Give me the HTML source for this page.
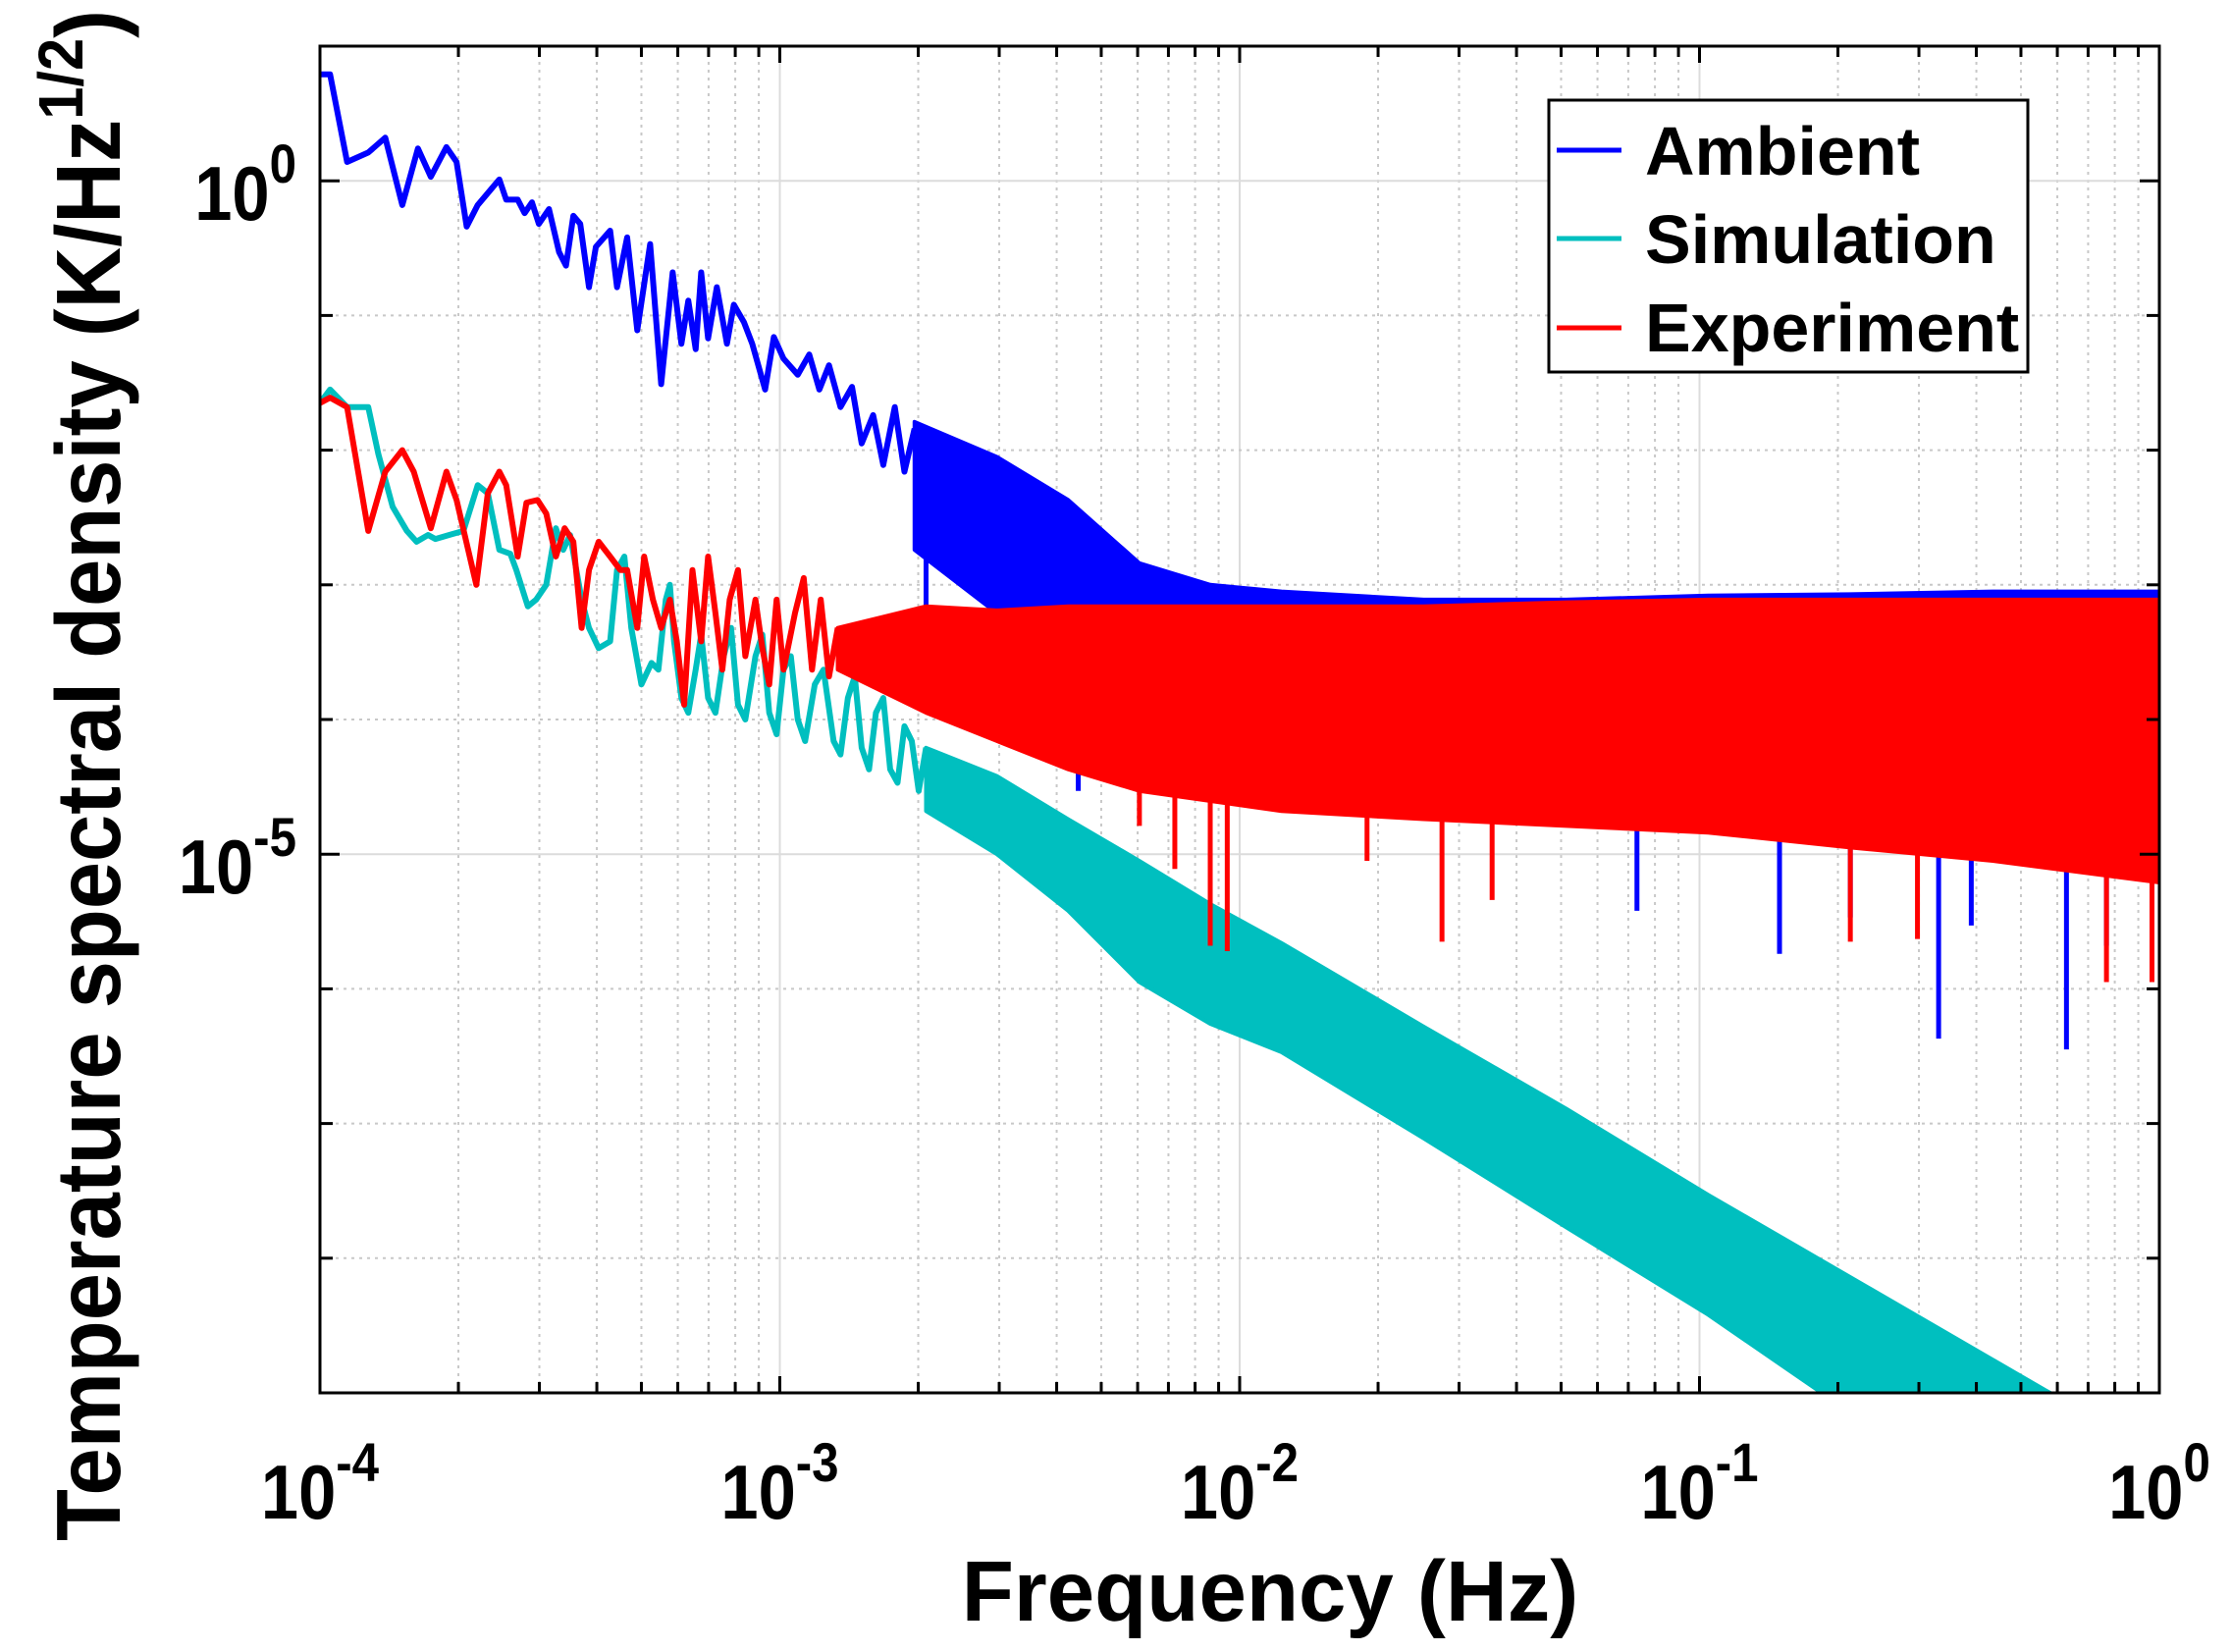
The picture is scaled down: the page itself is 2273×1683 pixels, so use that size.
<!DOCTYPE html>
<html><head><meta charset="utf-8"><style>
html,body{margin:0;padding:0;background:#fff}
svg{display:block}
text{font-family:"Liberation Sans",Arial,sans-serif;font-weight:bold;fill:#000}
</style></head><body>
<svg id="chart" width="2273" height="1683" viewBox="0 0 2273 1683" xmlns="http://www.w3.org/2000/svg">
<g id="grid"></g>
<defs><clipPath id="plotclip"><rect x="326" y="47" width="1874" height="1372"/></clipPath></defs>
<g id="series" clip-path="url(#plotclip)"></g>
<rect x="326" y="47" width="1874" height="1372" fill="none" stroke="#000" stroke-width="3"/>
<g id="ticks"></g>
<g id="labels"></g>
<text x="1294" y="1651" font-size="87" text-anchor="middle">Frequency (Hz)</text>
<text transform="translate(122,790) rotate(-90)" font-size="93" text-anchor="middle" textLength="1560" lengthAdjust="spacingAndGlyphs">Temperature spectral density (K/Hz<tspan font-size="64" dy="-38">1/2</tspan><tspan dy="38">)</tspan></text>
<g>
<rect x="1587" y="102" width="488" height="277" fill="#fff" stroke="#000" stroke-width="3" transform="translate(-9,0)"/>
<g transform="translate(-9,0)">
<g><line x1="1595" y1="153" x2="1661" y2="153" stroke="#0000ff" stroke-width="5"/><text x="1685" y="178" font-size="70">Ambient</text></g>
<g><line x1="1595" y1="243" x2="1661" y2="243" stroke="#00bfbf" stroke-width="5"/><text x="1685" y="268" font-size="70">Simulation</text></g>
<g><line x1="1595" y1="334" x2="1661" y2="334" stroke="#ff0000" stroke-width="5"/><text x="1685" y="358" font-size="70">Experiment</text></g>
</g>
</g>
</svg>
<script>
// Data in log10 units: log10(frequency Hz), log10(PSD K/Hz^1/2)
const xDecades = [-4,-3,-2,-1,0];
const yDecades = [1,0,-1,-2,-3,-4,-5,-6,-7,-8,-9];
const yLabelDecades = [0,-5];

const ambientLineF = [-4.000,-3.978,-3.941,-3.895,-3.858,-3.821,-3.787,-3.759,-3.725,-3.703,-3.681,-3.657,-3.610,-3.595,-3.570,-3.555,-3.539,-3.524,-3.502,-3.480,-3.465,-3.449,-3.434,-3.415,-3.400,-3.369,-3.354,-3.332,-3.310,-3.282,-3.258,-3.233,-3.214,-3.199,-3.183,-3.171,-3.156,-3.137,-3.115,-3.100,-3.078,-3.060,-3.032,-3.013,-2.992,-2.961,-2.936,-2.914,-2.893,-2.868,-2.843,-2.822,-2.797,-2.775,-2.750,-2.729,-2.707];
const ambientLineV = [0.79,0.79,0.14,0.21,0.32,-0.18,0.24,0.03,0.25,0.14,-0.34,-0.18,0.01,-0.14,-0.14,-0.24,-0.16,-0.32,-0.21,-0.53,-0.63,-0.26,-0.32,-0.79,-0.49,-0.37,-0.79,-0.42,-1.11,-0.47,-1.51,-0.68,-1.21,-0.89,-1.25,-0.68,-1.17,-0.79,-1.21,-0.92,-1.05,-1.21,-1.55,-1.16,-1.32,-1.44,-1.29,-1.55,-1.37,-1.68,-1.53,-1.95,-1.74,-2.11,-1.68,-2.16,-1.84];
const ambientBandF = [-2.707,-2.528,-2.373,-2.218,-2.064,-1.909,-1.600,-1.290,-0.981,-0.672,-0.362,0];
const ambientBandHi = [-1.79,-2.05,-2.37,-2.84,-3.00,-3.05,-3.11,-3.11,-3.08,-3.07,-3.05,-3.05];
const ambientBandLo = [-2.74,-3.21,-3.74,-4.16,-4.37,-4.58,-4.68,-4.74,-4.79,-4.84,-4.89,-4.89];
const ambientSpikeF = [-2.682,-2.351,-1.136,-0.826,-0.672,-0.480,-0.409,-0.202,-0.115];
const ambientSpikeV = [-3.63,-4.53,-5.42,-5.74,-5.47,-6.37,-5.53,-6.45,-5.68];

const simLineF = [-4.000,-3.978,-3.941,-3.895,-3.873,-3.842,-3.811,-3.790,-3.765,-3.749,-3.719,-3.688,-3.657,-3.635,-3.610,-3.586,-3.573,-3.548,-3.530,-3.508,-3.487,-3.471,-3.456,-3.431,-3.415,-3.394,-3.369,-3.354,-3.338,-3.323,-3.301,-3.279,-3.264,-3.248,-3.239,-3.230,-3.214,-3.199,-3.183,-3.171,-3.156,-3.140,-3.122,-3.106,-3.091,-3.075,-3.053,-3.038,-3.023,-3.007,-2.992,-2.976,-2.961,-2.945,-2.924,-2.905,-2.883,-2.868,-2.852,-2.837,-2.822,-2.806,-2.791,-2.775,-2.760,-2.744,-2.729,-2.713,-2.698,-2.682];
const simLineV = [-1.65,-1.55,-1.68,-1.68,-2.03,-2.42,-2.60,-2.68,-2.63,-2.66,-2.63,-2.60,-2.26,-2.32,-2.74,-2.77,-2.89,-3.16,-3.11,-3.00,-2.58,-2.74,-2.63,-3.11,-3.32,-3.47,-3.42,-2.89,-2.79,-3.32,-3.74,-3.58,-3.63,-3.11,-3.00,-3.42,-3.84,-3.95,-3.63,-3.37,-3.84,-3.95,-3.53,-3.32,-3.89,-4.00,-3.53,-3.37,-3.95,-4.11,-3.63,-3.53,-4.00,-4.16,-3.74,-3.63,-4.16,-4.26,-3.84,-3.68,-4.21,-4.37,-3.95,-3.84,-4.37,-4.47,-4.05,-4.16,-4.53,-4.21];
const simBandF = [-2.682,-2.528,-2.373,-2.218,-2.064,-1.909,-1.600,-1.290,-0.981,-0.743,-0.248,0];
const simBandHi = [-4.21,-4.42,-4.74,-5.05,-5.37,-5.66,-6.28,-6.89,-7.53,-8.00,-8.98,-9.45];
const simBandLo = [-4.68,-5.00,-5.42,-5.95,-6.26,-6.47,-7.11,-7.77,-8.42,-8.98,-10.02,-10.5];

const expLineF = [-4.000,-3.978,-3.941,-3.895,-3.858,-3.821,-3.796,-3.759,-3.725,-3.703,-3.660,-3.635,-3.610,-3.595,-3.570,-3.551,-3.527,-3.508,-3.487,-3.468,-3.449,-3.431,-3.415,-3.394,-3.369,-3.347,-3.332,-3.310,-3.295,-3.276,-3.258,-3.239,-3.224,-3.208,-3.190,-3.171,-3.156,-3.140,-3.125,-3.109,-3.091,-3.075,-3.053,-3.038,-3.023,-3.007,-2.992,-2.967,-2.948,-2.930,-2.911,-2.893,-2.874];
const expLineV = [-1.65,-1.61,-1.68,-2.60,-2.16,-2.00,-2.16,-2.58,-2.16,-2.37,-3.00,-2.32,-2.16,-2.26,-2.79,-2.39,-2.37,-2.47,-2.79,-2.58,-2.68,-3.32,-2.89,-2.68,-2.79,-2.89,-2.89,-3.32,-2.79,-3.11,-3.32,-3.11,-3.42,-3.89,-2.89,-3.42,-2.79,-3.21,-3.63,-3.11,-2.89,-3.53,-3.11,-3.47,-3.74,-3.11,-3.63,-3.21,-2.95,-3.63,-3.11,-3.68,-3.32];
const expBandF = [-2.874,-2.682,-2.528,-2.373,-2.218,-1.909,-1.600,-1.290,-0.981,-0.672,-0.362,0];
const expBandHi = [-3.32,-3.16,-3.19,-3.16,-3.16,-3.16,-3.16,-3.13,-3.11,-3.11,-3.11,-3.11];
const expBandLo = [-3.63,-3.95,-4.16,-4.37,-4.53,-4.68,-4.74,-4.79,-4.84,-4.95,-5.05,-5.21];
const expSpikeF = [-2.218,-2.141,-2.064,-2.027,-1.723,-1.560,-1.451,-0.672,-0.526,-0.115,-0.016];
const expSpikeV = [-4.79,-5.11,-5.68,-5.72,-5.05,-5.65,-5.34,-5.65,-5.63,-5.95,-5.95];

const NS = 'http://www.w3.org/2000/svg';
const X = lf => 326 + (lf + 4) * 468.5;
const Y = lv => 47 + (1 - lv) * 137.2;
function mk(tag, attrs, parent){ const e = document.createElementNS(NS, tag); for (const k in attrs) e.setAttribute(k, attrs[k]); parent.appendChild(e); return e; }
function interp(fs, vs, f){ for (let i=0;i<fs.length-1;i++){ if (f>=fs[i] && f<=fs[i+1]) { const t=(f-fs[i])/(fs[i+1]-fs[i]); return vs[i]+t*(vs[i+1]-vs[i]); } } return vs[vs.length-1]; }

const grid = document.getElementById('grid'), ticks = document.getElementById('ticks'), labels = document.getElementById('labels'), series = document.getElementById('series');
const R = 2200, B = 1419;

xDecades.forEach((d, i) => {
  const x = X(d);
  const g = mk('line', {x1:x,x2:x,y1:47,y2:B,stroke:'#dcdcdc','stroke-width':2}, grid);
  
  
  mk('line', {x1:x,x2:x,y1:B,y2:B-17,stroke:'#000','stroke-width':3}, ticks);
  mk('line', {x1:x,x2:x,y1:47,y2:64,stroke:'#000','stroke-width':3}, ticks);
  const t = mk('text', {x:x, y:1547, 'font-size':78, 'text-anchor':'middle', transform:'translate('+x+',0) scale(0.88,1) translate('+(-x)+',0)'}, labels);
  
  
  t.innerHTML = '10<tspan font-size="56" dy="-38">' + d + '</tspan>';
  if (i < xDecades.length - 1) {
    for (let m = 2; m <= 9; m++) {
      const xm = X(d + Math.log10(m));
      const mg = mk('line', {x1:xm,x2:xm,y1:47,y2:B,stroke:'#c8c8c8','stroke-width':2,'stroke-dasharray':'3,5'}, grid);
      
      
      mk('line', {x1:xm,x2:xm,y1:B,y2:B-11,stroke:'#000','stroke-width':3}, ticks);
      mk('line', {x1:xm,x2:xm,y1:47,y2:58,stroke:'#000','stroke-width':3}, ticks);
    }
  }
});
yDecades.forEach(d => {
  const y = Y(d);
  const major = yLabelDecades.indexOf(d) >= 0;
  if (d !== 1 && d !== -9) {
    const g = mk('line', major ? {x1:326,x2:R,y1:y,y2:y,stroke:'#dcdcdc','stroke-width':2} : {x1:326,x2:R,y1:y,y2:y,stroke:'#c8c8c8','stroke-width':2,'stroke-dasharray':'3,5'}, grid);
    
    
  }
  const len = major ? 20 : 13;
  mk('line', {x1:326,x2:326+len,y1:y,y2:y,stroke:'#000','stroke-width':3}, ticks);
  mk('line', {x1:R,x2:R-len,y1:y,y2:y,stroke:'#000','stroke-width':3}, ticks);
  if (major) {
    const t = mk('text', {x:302, y:y+40, 'font-size':78, 'text-anchor':'end', transform:'translate(302,0) scale(0.88,1) translate(-302,0)'}, labels);
    
    
    t.innerHTML = '10<tspan font-size="56" dy="-38">' + d + '</tspan>';
  }
});

function band(fs, hi, lo, color, name){
  let pts = fs.map((f,i)=>X(f)+','+Y(hi[i]));
  pts = pts.concat(fs.slice().reverse().map((f,j)=>X(f)+','+Y(lo[fs.length-1-j])));
  const p = mk('polygon', {points:pts.join(' '), fill:color, stroke:color, 'stroke-width':4, 'stroke-linejoin':'round'}, series);
  
  
}
function line(fs, vs, color, name){
  const p = mk('polyline', {points:fs.map((f,i)=>X(f)+','+Y(vs[i])).join(' '), fill:'none', stroke:color, 'stroke-width':6, 'stroke-linejoin':'round'}, series);
  
  
}
function spikes(fs, vs, bf, bhi, blo, color, name){
  fs.forEach((f,i)=>{
    const mid = (interp(bf,bhi,f)+interp(bf,blo,f))/2;
    const s = mk('line', {x1:X(f),x2:X(f),y1:Y(mid),y2:Y(vs[i]),stroke:color,'stroke-width':5}, series);
    
    
  });
}
line(ambientLineF, ambientLineV, '#0000ff', 'ambient-line');
band(ambientBandF, ambientBandHi, ambientBandLo, '#0000ff', 'ambient-noise-band');
spikes(ambientSpikeF, ambientSpikeV, ambientBandF, ambientBandHi, ambientBandLo, '#0000ff', 'ambient-spike');
line(simLineF, simLineV, '#00bfbf', 'simulation-line');
band(simBandF, simBandHi, simBandLo, '#00bfbf', 'simulation-band');
line(expLineF, expLineV, '#ff0000', 'experiment-line');
band(expBandF, expBandHi, expBandLo, '#ff0000', 'experiment-noise-band');
spikes(expSpikeF, expSpikeV, expBandF, expBandHi, expBandLo, '#ff0000', 'experiment-spike');
</script>
</body></html>
